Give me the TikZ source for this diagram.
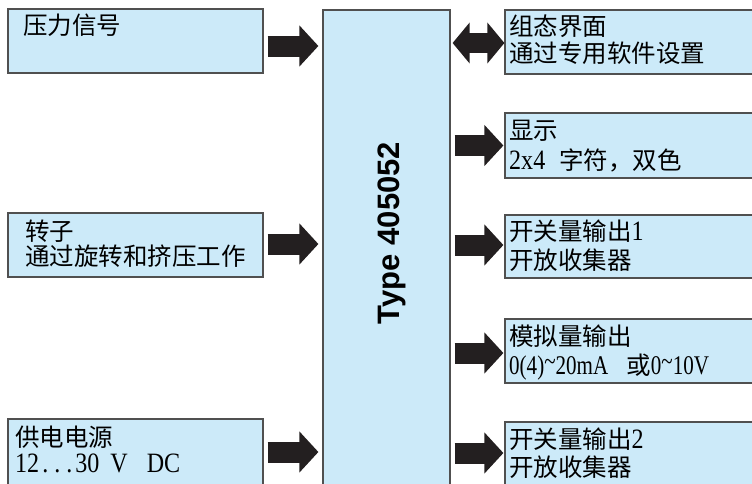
\documentclass[tikz,border=0pt]{standalone}
\usepackage{fontspec}
\setmainfont{Liberation Serif}
\newfontfamily\cjk{Noto Sans CJK SC}
\newfontfamily\typefont{Liberation Sans}
\newfontfamily\latw{Liberation Serif}[FakeStretch=0.86]
\newfontfamily\latn{Liberation Serif}[FakeStretch=0.78]
\usetikzlibrary{arrows.meta,calc}
\definecolor{boxfill}{HTML}{CCEAF9}
\definecolor{boxline}{HTML}{505050}
\definecolor{arrowc}{HTML}{231F20}
\newcommand{\hitilde}{\raisebox{4pt}{\textasciitilde}}
\newcommand{\la}[1]{{\fontsize{28}{28}\latw #1}}
\newcommand{\lan}[1]{{\fontsize{27}{27}\latn #1}}
\begin{document}
\begin{tikzpicture}[x=1pt,y=-1pt,
 panel/.style={draw=boxline, line width=1.2pt, fill=boxfill, rectangle, inner sep=0pt},
 txt/.style={anchor=base west, inner sep=0pt, font=\fontsize{24.5}{24.5}\selectfont\cjk},
 blk/.style={draw=arrowc, line width=21pt, -{Triangle[length=19pt,width=40pt]}, arrowc},
 dbl/.style={draw=arrowc, line width=20pt, {Triangle[length=17pt,width=40pt]}-{Triangle[length=17pt,width=40pt]}, arrowc}]
\useasboundingbox (0,0) rectangle (752,483);
\fill[white] (0,0) rectangle (752,483);
\begin{scope}
\clip (0,0) rectangle (752,483);
% boxes
\node[panel, minimum width=255pt, minimum height=64pt] (l1) at (135.5,41) {};
\node[panel, minimum width=255pt, minimum height=64pt] (l2) at (135.5,245) {};
\node[panel, minimum width=255pt, minimum height=80pt] (l3) at (135.5,459) {};
\node[panel, minimum width=127pt, minimum height=500pt] (core) at (386.5,260) {};
\node[panel, minimum width=265pt, minimum height=64pt] (r1) at (637.5,42) {};
\node[panel, minimum width=265pt, minimum height=65pt] (r2) at (637.5,145.5) {};
\node[panel, minimum width=265pt, minimum height=63pt] (r3) at (637.5,246.5) {};
\node[panel, minimum width=265pt, minimum height=64pt] (r4) at (637.5,351) {};
\node[panel, minimum width=265pt, minimum height=80pt] (r5) at (637.5,462) {};
% core label
\node[rotate=90, inner sep=0pt, font=\typefont\bfseries\fontsize{31}{31}\selectfont] (lbl) at (392,233) {Type 405052};
% texts
\node[txt] (t1) at (23,34) {压力信号};
\node[txt] (t2a) at (25,240) {转子};
\node[txt] (t2b) at (25,265) {通过旋转和挤压工作};
\node[txt] (t3a) at (15,446) {供电电源};
\node[txt] (t3b) at (15,472) {\la{12\kern3pt.\kern6pt.\kern6pt.\kern3pt30\hspace{11pt}V\hspace{19pt}DC}};
\node[txt] (u1a) at (509,35) {组态界面};
\node[txt] (u1b) at (509,62) {通过专用软件设置};
\node[txt] (u2a) at (509,139) {显示};
\node[txt] (u2b) at (509,169) {\la{2x4}\hspace{14pt}字符，双色};
\node[txt] (u3a) at (509,240) {开关量输出\la{1}};
\node[txt] (u3b) at (509,269) {开放收集器};
\node[txt] (u4a) at (509,345) {模拟量输出};
\node[txt] (u4b) at (509,374) {\lan{0(4)\hitilde 20mA}\hspace{18pt}或\lan{0\hitilde 10V}};
\node[txt] (u5a) at (509,448) {开关量输出\la{2}};
\node[txt] (u5b) at (509,476) {开放收集器};
% arrows
\draw[blk] ($(l1.east)+(4,5)$) -- ($(l1.east -| core.west)+(-4,5)$);
\draw[blk] ($(l2.east)+(4,-1)$) -- ($(l2.east -| core.west)+(-4,-1)$);
\draw[blk] ($(l3.east)+(4,-7)$) -- ($(l3.east -| core.west)+(-4,-7)$);
\draw[dbl] ($(r1.west -| core.east)+(2,1)$) -- ($(r1.west)+(0,1)$);
\draw[blk] ($(r2.west -| core.east)+(4,0)$) -- ($(r2.west)+(-1,0)$);
\draw[blk] ($(r3.west -| core.east)+(4,-1.5)$) -- ($(r3.west)+(-1,-1.5)$);
\draw[blk] ($(r4.west -| core.east)+(4,2)$) -- ($(r4.west)+(-1,2)$);
\draw[blk] ($(r5.west -| core.east)+(4,-9)$) -- ($(r5.west)+(-1,-9)$);
\end{scope}
\end{tikzpicture}
\end{document}
